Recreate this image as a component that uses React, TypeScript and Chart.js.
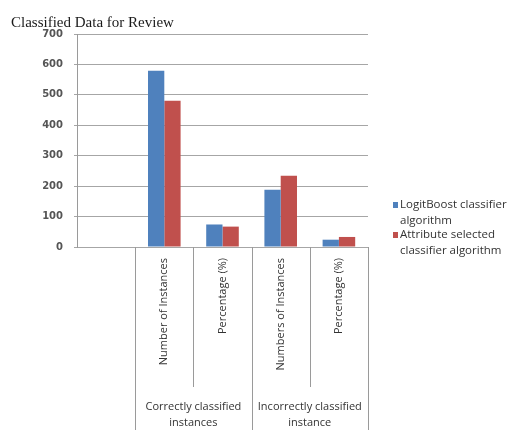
import React, { useEffect, useRef } from "react";
import { Chart, registerables } from "chart.js";

Chart.register(...registerables);

// Category slots: an empty lead slot, then two measures per group
const categories = ["", "Number of Instances", "Percentage (%)", "Numbers of Instances", "Percentage (%)"];
const groupLabels = [
  { lines: ["Correctly classified", "instances"], from: 1, to: 2 },
  { lines: ["Incorrectly classified", "instance"], from: 3, to: 4 },
];
const logitBoost = [null, 579, 74, 188, 24];
const attributeSelected = [null, 481, 67, 234, 33];
const seriesNames = [["LogitBoost classifier", "algorithm"], ["Attribute selected", "classifier algorithm"]];
const seriesColors = ["#4F81BD", "#C0504D"];
const yTicks = { min: 0, max: 700, step: 100 };
const chartTitle = "Classified Data for Review";

const SANS = "'Open Sans', 'DejaVu Sans', sans-serif";

const decorations = {
  id: "decorations",
  afterDraw(chart: any) {
    const ctx: CanvasRenderingContext2D = chart.ctx;
    const x = chart.scales.x;
    const area = chart.chartArea;
    const n = categories.length;
    const centers = categories.map((_, i) => x.getPixelForValue(i));
    const step = centers.length > 1 ? centers[1] - centers[0] : area.right - area.left;
    const bounds: number[] = [];
    for (let i = 0; i <= n; i++) bounds.push(centers[0] - step / 2 + i * step);

    ctx.save();

    // title
    ctx.fillStyle = "#1a1a1a";
    ctx.font = "15px 'Liberation Serif', 'Times New Roman', serif";
    ctx.textAlign = "left";
    ctx.textBaseline = "middle";
    ctx.fillText(chartTitle, 11, 23);

    // separators under the category axis
    ctx.strokeStyle = "#9a9a9a";
    ctx.lineWidth = 1;
    const innerBottom = 387;
    const outerBottom = chart.height;
    const groupEdges = new Set<number>();
    groupLabels.forEach((g) => {
      groupEdges.add(g.from);
      groupEdges.add(g.to + 1);
    });
    for (let i = 1; i <= n; i++) {
      const bx = Math.round(bounds[i]) + 0.5;
      const yEnd = groupEdges.has(i) ? outerBottom : innerBottom;
      ctx.beginPath();
      ctx.moveTo(bx, area.bottom);
      ctx.lineTo(bx, yEnd);
      ctx.stroke();
    }

    // rotated category labels
    ctx.fillStyle = "#333";
    ctx.font = `11px ${SANS}`;
    categories.forEach((label, i) => {
      if (!label) return;
      ctx.save();
      ctx.translate(centers[i], area.bottom + 11);
      ctx.rotate(-Math.PI / 2);
      ctx.textAlign = "right";
      ctx.textBaseline = "middle";
      ctx.fillText(label, 0, 0);
      ctx.restore();
    });

    // group labels
    ctx.textAlign = "center";
    ctx.textBaseline = "middle";
    groupLabels.forEach((g) => {
      const cx = (bounds[g.from] + bounds[g.to + 1]) / 2;
      g.lines.forEach((line, k) => ctx.fillText(line, cx, 407 + k * 16));
    });

    // legend
    ctx.textAlign = "left";
    ctx.font = `11.5px ${SANS}`;
    seriesNames.forEach((lines, s) => {
      const y0 = 205 + s * 30;
      ctx.fillStyle = seriesColors[s];
      ctx.fillRect(393, y0 - 3, 5, 6);
      ctx.fillStyle = "#333";
      lines.forEach((line, k) => ctx.fillText(line, 400, y0 + k * 16));
    });

    ctx.restore();
  },
};

export default function App() {
  const ref = useRef<HTMLCanvasElement | null>(null);

  useEffect(() => {
    if (!ref.current) return;
    const chart = new Chart(ref.current, {
      type: "bar",
      data: {
        labels: categories,
        datasets: [
          { label: seriesNames[0].join(" "), data: logitBoost as any, backgroundColor: seriesColors[0] },
          { label: seriesNames[1].join(" "), data: attributeSelected as any, backgroundColor: seriesColors[1] },
        ],
      },
      options: {
        responsive: false,
        animation: false,
        maintainAspectRatio: false,
        layout: { padding: { left: 0, top: 34, right: 140, bottom: 183 } },
        datasets: { bar: { categoryPercentage: 0.56, barPercentage: 1 } },
        plugins: { legend: { display: false }, title: { display: false }, tooltip: { enabled: false } },
        scales: {
          x: { display: false, offset: true },
          y: {
            min: yTicks.min,
            max: yTicks.max,
            ticks: {
              stepSize: yTicks.step,
              color: "#555",
              padding: 11,
              font: { family: "'DejaVu Sans', sans-serif", size: 10, weight: "bold" },
            },
            grid: { color: "#a6a6a6", tickLength: 3, lineWidth: 1 },
            border: { display: true, color: "#9a9a9a" },
            afterFit: (scale: any) => {
              scale.width = 77;
            },
          },
        },
      },
      plugins: [decorations],
    });
    return () => chart.destroy();
  }, []);

  return (
    <div style={{ position: "absolute", left: 0, top: 0, width: 508, height: 430, background: "#fff" }}>
      <canvas ref={ref} width={508} height={430} />
    </div>
  );
}
